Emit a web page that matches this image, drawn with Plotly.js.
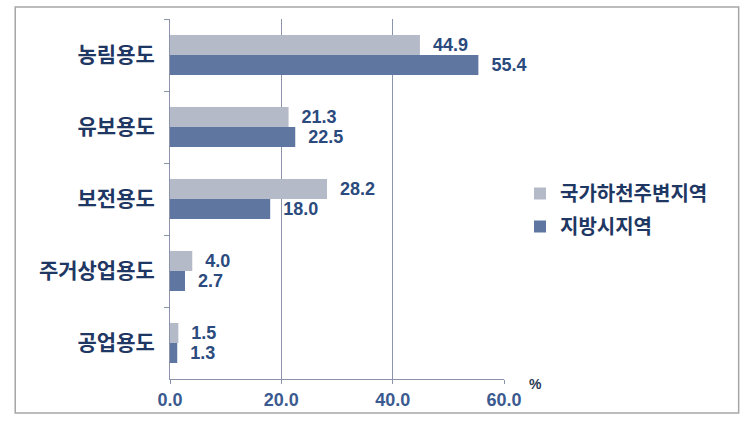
<!DOCTYPE html>
<html>
<head>
<meta charset="utf-8">
<script src="https://cdn.plot.ly/plotly-3.0.1.min.js"></script>
<style>html,body{margin:0;padding:0;background:#fff;}#chart{width:749px;height:426px;}</style>
</head>
<body>
<div id="chart"></div>
<script>
const categories = ["농림용도", "유보용도", "보전용도", "주거상업용도", "공업용도"];
const seriesNames = ["국가하천주변지역", "지방시지역"];
const riverValues = [44.9, 21.3, 28.2, 4.0, 1.5];
const cityValues = [55.4, 22.5, 18.0, 2.7, 1.3];
const xTickVals = [0, 20, 40, 60];
const xTickText = ["0.0", "20.0", "40.0", "60.0"];
const unitLabel = "%";

const labelFont = {family: "Liberation Sans, Arial, sans-serif", size: 18, color: "#2b4a7d", weight: "bold"};
const korFont = "Noto Sans CJK KR, sans-serif";

const L = 169.5, R = 504, T = 19, B = 379, W = 749, H = 426;
const pw = R - L, ph = B - T;
const px = x => (x - L) / pw;
const py = y => (B - y) / ph;

const traces = [
  {type: "bar", orientation: "h", name: seriesNames[0], y: categories, x: riverValues,
   marker: {color: "#b5bac9"}, text: riverValues.map(v => v.toFixed(1)),
   texttemplate: "\u00a0\u00a0%{text}", textposition: "outside", cliponaxis: false,
   textfont: labelFont, legendgroup: "a", hoverinfo: "skip"},
  {type: "bar", orientation: "h", name: seriesNames[1], y: categories, x: cityValues,
   marker: {color: "#5f76a1"}, text: cityValues.map(v => v.toFixed(1)),
   texttemplate: "\u00a0\u00a0%{text}", textposition: "outside", cliponaxis: false,
   textfont: labelFont, legendgroup: "b", hoverinfo: "skip"}
];

const layout = {
  width: W, height: H,
  margin: {l: L, r: W - R, t: T, b: H - B, pad: 0},
  paper_bgcolor: "#ffffff", plot_bgcolor: "#ffffff",
  barmode: "group", bargap: 0.444, bargroupgap: 0,
  showlegend: true,
  legend: {x: px(520), y: py(174), xanchor: "left", yanchor: "top",
           font: {family: korFont, size: 20, color: "#1f3763", weight: "bold"},
           traceorder: "grouped", tracegroupgap: 4, itemwidth: 30, bgcolor: "rgba(0,0,0,0)"},
  xaxis: {range: [0, 60], tickvals: xTickVals, ticktext: xTickText,
          showgrid: true, gridcolor: "#8a93aa", gridwidth: 1,
          showline: true, linecolor: "#8a93aa", linewidth: 1,
          ticks: "outside", ticklen: 4, tickcolor: "#8a93aa",
          tickfont: {family: "Liberation Sans, Arial, sans-serif", size: 18, color: "#3b5a8f", weight: "bold"},
          zeroline: false, fixedrange: true},
  yaxis: {type: "category", autorange: "reversed",
          showline: true, linecolor: "#8a93aa", linewidth: 1,
          ticks: "outside", tickson: "boundaries", ticklen: 5, tickcolor: "#8a93aa",
          ticklabelstandoff: 10,
          tickfont: {family: korFont, size: 21, color: "#1f3763", weight: "bold"},
          showgrid: false, zeroline: false, fixedrange: true},
  annotations: [
    {xref: "paper", yref: "paper", x: px(536), y: py(384), text: unitLabel, showarrow: false,
     font: {family: "Liberation Sans, Arial, sans-serif", size: 14, color: "#2b3a55", weight: "bold"}, xanchor: "center", yanchor: "middle"}
  ],
  shapes: [
    {type: "rect", xref: "paper", yref: "paper", x0: px(14.5), x1: px(739), y0: py(413), y1: py(7),
     line: {color: "#a6a6a6", width: 1.5}, fillcolor: "rgba(0,0,0,0)", layer: "below"}
  ]
};

Plotly.newPlot("chart", traces, layout, {displayModeBar: false, staticPlot: true});
</script>
</body>
</html>
